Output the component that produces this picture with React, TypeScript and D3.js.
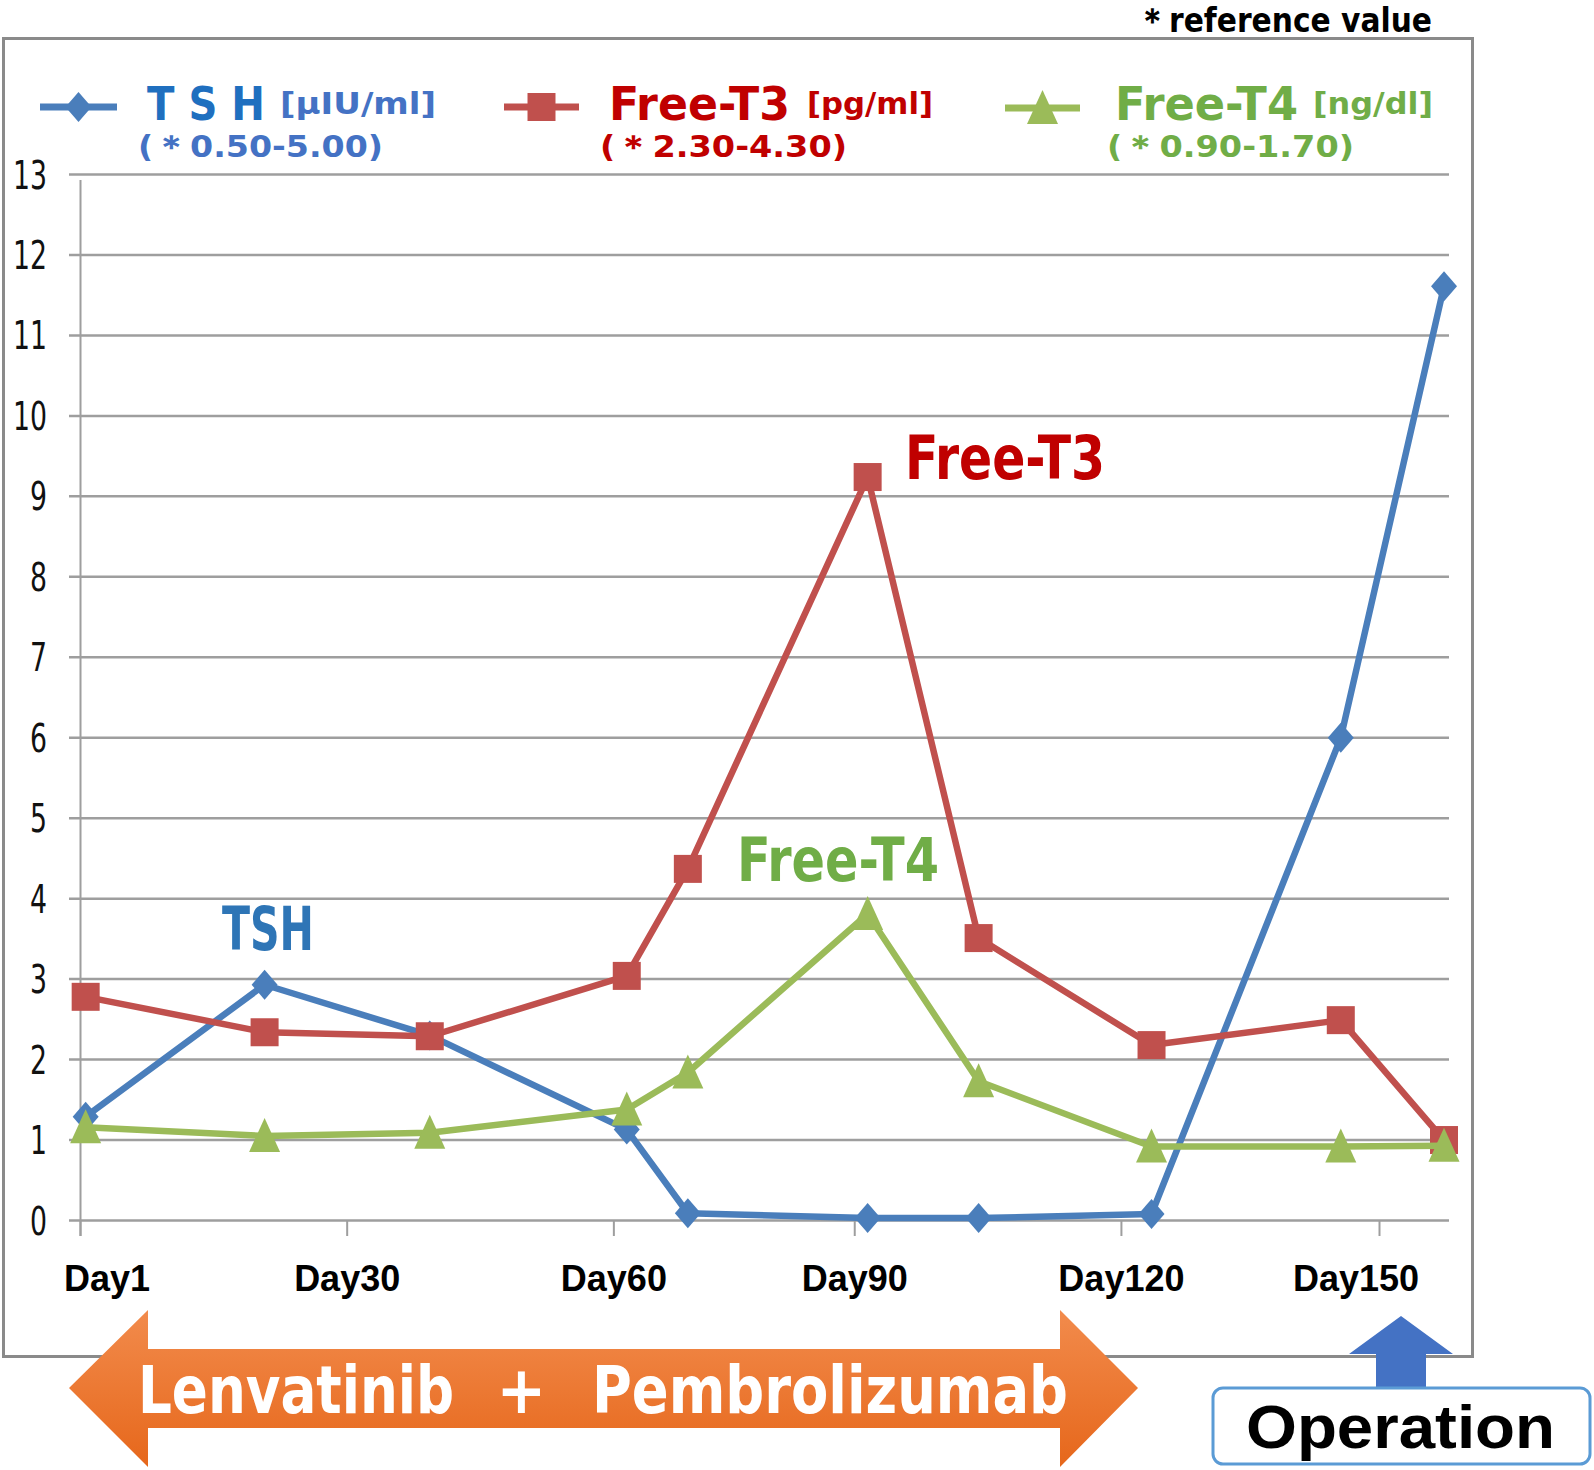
import React from 'react'
import * as d3 from 'd3'

const days = [0.6, 21.4, 40.6, 63.5, 70.6, 91.5, 104.4, 124.5, 146.5, 158.5]
const tsh = [1.29, 2.93, 2.3, 1.13, 0.09, 0.03, 0.03, 0.08, 6.0, 11.61]
const freeT3 = [2.78, 2.34, 2.29, 3.04, 4.37, 9.24, 3.51, 2.18, 2.49, 1.0]
const freeT4 = [1.16, 1.05, 1.09, 1.38, 1.84, 3.81, 1.73, 0.92, 0.92, 0.93]

// monthly date-axis ticks (31, 31, 28, 31, 30 day months)
const xTickDays = [0, 31, 62, 90, 121, 151]
const xTickLabels = ['Day1', 'Day30', 'Day60', 'Day90', 'Day120', 'Day150']
const yTicks = d3.range(0, 14)

const W = 1594
const H = 1470
const NARROW = "'Liberation Sans Narrow', 'DejaVu Sans Condensed', 'Liberation Sans', Arial, sans-serif"
const SANS = "'Liberation Sans', Arial, sans-serif"

const BLUE = '#4A7EBB'
const RED = '#C0504D'
const GREEN = '#9BBB59'

type Shape = 'diamond' | 'square' | 'triangle'

const markerPath = (shape: Shape, cx: number, cy: number) => {
  const p = d3.path()
  if (shape === 'diamond') {
    p.moveTo(cx, cy - 15); p.lineTo(cx + 13, cy); p.lineTo(cx, cy + 15); p.lineTo(cx - 13, cy)
  } else if (shape === 'square') {
    p.rect(cx - 14, cy - 14, 28, 28)
  } else {
    p.moveTo(cx, cy - 18); p.lineTo(cx + 15.5, cy + 16); p.lineTo(cx - 15.5, cy + 16)
  }
  p.closePath()
  return p.toString()
}

const App: React.FC = () => {
  const x = d3.scaleLinear().domain([0, 151]).range([80.5, 1379.5])
  const y = d3.scaleLinear().domain([0, 13]).range([1220.5, 174.5])

  const line = d3.line<number>()
    .x((_, i) => x(days[i]))
    .y((d) => y(d))

  const series: { values: number[]; color: string; shape: Shape }[] = [
    { values: tsh, color: BLUE, shape: 'diamond' },
    { values: freeT3, color: RED, shape: 'square' },
    { values: freeT4, color: GREEN, shape: 'triangle' },
  ]

  // legend entries: marker segment, title, unit, reference range
  const legend = [
    { color: BLUE, shape: 'diamond' as Shape, x0: 40, x1: 117, my: 107, title: 'T S H', tx: 147, tl: 118, tc: '#1F6FBF', unit: '[μIU/ml]', ux: 280, ul: 156, uc: '#4472C4', ref: '(＊0.50-5.00)', rx: 138, rl: 245, rc: '#4472C4' },
    { color: RED, shape: 'square' as Shape, x0: 504, x1: 579, my: 107, title: 'Free-T3', tx: 609, tl: 181, tc: '#C00000', unit: '[pg/ml]', ux: 807, ul: 126, uc: '#C00000', ref: '(＊2.30-4.30)', rx: 600, rl: 247, rc: '#C00000' },
    { color: GREEN, shape: 'triangle' as Shape, x0: 1005, x1: 1080, my: 108, title: 'Free-T4', tx: 1115, tl: 183, tc: '#70AD47', unit: '[ng/dl]', ux: 1313, ul: 120, uc: '#70AD47', ref: '(＊0.90-1.70)', rx: 1107, rl: 247, rc: '#70AD47' },
  ]

  return (
    <svg width={W} height={H} style={{ position: 'absolute', left: 0, top: 0, background: '#fff' }}>
      <defs>
        <linearGradient id="orangeGrad" x1="0" y1="0" x2="0" y2="1">
          <stop offset="0%" stopColor="#F28B4C" />
          <stop offset="100%" stopColor="#E6671B" />
        </linearGradient>
      </defs>
      <rect width={W} height={H} fill="#fff" />

      <text x={1136} y={32} fontFamily={NARROW} fontWeight="bold" fontSize={34} textLength={296} lengthAdjust="spacingAndGlyphs" fill="#000">＊reference value</text>

      {/* chart frame */}
      <rect x={3.5} y={38.5} width={1469} height={1318} fill="#fff" stroke="#8A8A8A" strokeWidth={3} />

      {/* legend */}
      {legend.map((l) => (
        <g key={l.title}>
          <line x1={l.x0} x2={l.x1} y1={l.my} y2={l.my} stroke={l.color} strokeWidth={7} />
          <path d={markerPath(l.shape, (l.x0 + l.x1) / 2, l.my)} fill={l.color} />
          <text x={l.tx} y={120} fontFamily={NARROW} fontWeight="bold" fontSize={46} fill={l.tc} textLength={l.tl} lengthAdjust="spacingAndGlyphs">{l.title}</text>
          <text x={l.ux} y={114} fontFamily={NARROW} fontWeight="bold" fontSize={30} fill={l.uc} textLength={l.ul} lengthAdjust="spacingAndGlyphs">{l.unit}</text>
          <text x={l.rx} y={157} fontFamily={NARROW} fontWeight="bold" fontSize={31} fill={l.rc} textLength={l.rl} lengthAdjust="spacingAndGlyphs">{l.ref}</text>
        </g>
      ))}

      {/* gridlines and y labels */}
      {yTicks.map((t) => (
        <g key={t}>
          <line x1={69} x2={1449} y1={y(t)} y2={y(t)} stroke="#9E9E9E" strokeWidth={2.5} />
          <text x={47} y={y(t)} dy="0.36em" textAnchor="end" fontFamily={NARROW} fontSize={39} fill="#111"
            textLength={String(t).length * 17} lengthAdjust="spacingAndGlyphs">{t}</text>
        </g>
      ))}
      <line x1={x(0)} x2={x(0)} y1={180} y2={1236} stroke="#9E9E9E" strokeWidth={2} />
      {xTickDays.map((d, i) => (
        <g key={d}>
          <line x1={x(d)} x2={x(d)} y1={y(0)} y2={1236} stroke="#9E9E9E" strokeWidth={2} />
          <text x={Math.min(Math.max(x(d), 107), 1356)} y={1291} textAnchor="middle" fontFamily={SANS} fontWeight="bold" fontSize={36} fill="#000">{xTickLabels[i]}</text>
        </g>
      ))}

      {/* series */}
      {series.map((s) => (
        <g key={s.shape}>
          <path d={line(s.values) || ''} fill="none" stroke={s.color} strokeWidth={6.5} strokeLinejoin="round" />
          {s.values.map((v, i) => (
            <path key={i} d={markerPath(s.shape, x(days[i]), y(v))} fill={s.color} />
          ))}
        </g>
      ))}

      {/* in-plot labels */}
      <text x={222} y={950} fontFamily={NARROW} fontWeight="bold" fontSize={60} fill="#2E75B6" textLength={92} lengthAdjust="spacingAndGlyphs">TSH</text>
      <text x={737} y={881} fontFamily={NARROW} fontWeight="bold" fontSize={60} fill="#70AD47" textLength={202} lengthAdjust="spacingAndGlyphs">Free-T4</text>
      <text x={905} y={479} fontFamily={NARROW} fontWeight="bold" fontSize={60} fill="#C00000" textLength={200} lengthAdjust="spacingAndGlyphs">Free-T3</text>

      {/* treatment arrow */}
      <polygon
        points="69,1388 148,1310 148,1349 1060,1349 1060,1310 1138,1388 1060,1467 1060,1428 148,1428 148,1467"
        fill="url(#orangeGrad)"
      />
      <text x={138} y={1413} fontFamily={NARROW} fontWeight="bold" fontSize={66} fill="#fff" textLength={316} lengthAdjust="spacingAndGlyphs">Lenvatinib</text>
      <text x={521.5} y={1413} textAnchor="middle" fontFamily={NARROW} fontWeight="bold" fontSize={66} fill="#fff">+</text>
      <text x={592} y={1413} fontFamily={NARROW} fontWeight="bold" fontSize={66} fill="#fff" textLength={476} lengthAdjust="spacingAndGlyphs">Pembrolizumab</text>

      {/* operation marker */}
      <polygon points="1401,1316 1453,1354 1426,1354 1426,1390 1376,1390 1376,1354 1349,1354" fill="#4472C4" />
      <rect x={1213} y={1388} width={377} height={76} rx={10} fill="#fff" stroke="#5B9BD5" strokeWidth={3} />
      <text x={1246} y={1448} fontFamily={SANS} fontWeight="bold" fontSize={62} fill="#000" textLength={309} lengthAdjust="spacingAndGlyphs">Operation</text>
    </svg>
  )
}

export default App
